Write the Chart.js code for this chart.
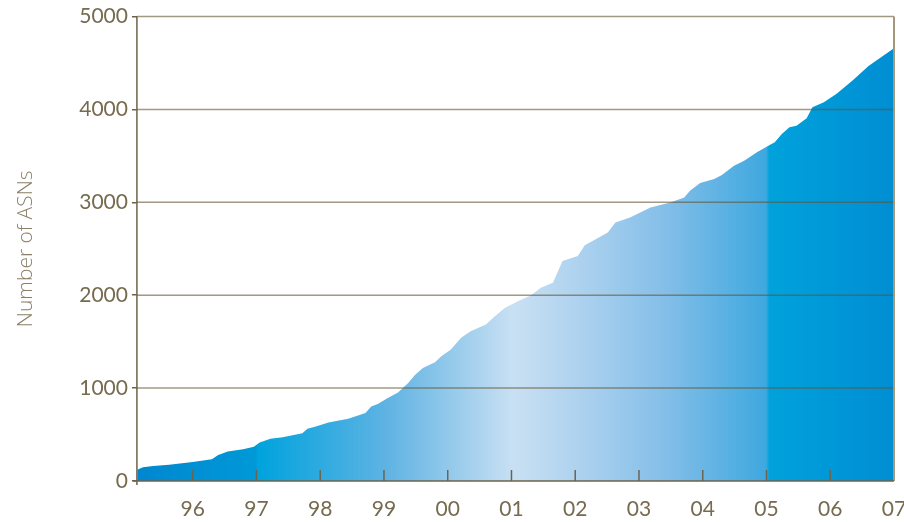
<!DOCTYPE html>
<html>
<head>
<meta charset="utf-8">
<script src="https://cdn.jsdelivr.net/npm/chart.js@4"></script>
<style>
  body { margin: 0; background: #fff; }
  #wrap { width: 904px; height: 522px; }
</style>
</head>
<body>
<div id="wrap"><canvas id="myChart"></canvas></div>
<script>
// dates as decimal years
var years = [1995.13, 1995.22, 1995.38, 1995.63, 1996.00, 1996.30, 1996.40, 1996.55, 1996.79, 1996.96,
  1997.05, 1997.22, 1997.41, 1997.72, 1997.80, 1997.93, 1998.13, 1998.44, 1998.71, 1998.80,
  1998.91, 1999.04, 1999.22, 1999.38, 1999.49, 1999.61, 1999.80, 1999.90, 2000.05, 2000.21,
  2000.36, 2000.60, 2000.74, 2000.90, 2001.10, 2001.30, 2001.46, 2001.65, 2001.80, 2002.04,
  2002.15, 2002.30, 2002.51, 2002.63, 2002.86, 2003.18, 2003.49, 2003.71, 2003.80, 2003.96,
  2004.18, 2004.30, 2004.49, 2004.65, 2004.85, 2005.05, 2005.13, 2005.24, 2005.36, 2005.47,
  2005.63, 2005.72, 2005.90, 2006.10, 2006.35, 2006.60, 2007.00];
var asnCounts = [120, 148, 162, 176, 205, 234, 281, 317, 342, 370,
  414, 454, 472, 515, 562, 586, 630, 670, 731, 802,
  832, 886, 954, 1055, 1145, 1217, 1278, 1342, 1415, 1541,
  1612, 1685, 1774, 1865, 1936, 1998, 2081, 2135, 2368, 2422,
  2538, 2595, 2675, 2783, 2837, 2945, 2999, 3053, 3124, 3208,
  3251, 3294, 3394, 3448, 3539, 3618, 3647, 3737, 3809, 3826,
  3906, 4025, 4079, 4169, 4313, 4468, 4660];
var xTicks = [1996, 1997, 1998, 1999, 2000, 2001, 2002, 2003, 2004, 2005, 2006, 2007];
var yTicks = [0, 1000, 2000, 3000, 4000, 5000];

var points = [];
for (var i = 0; i < years.length; i++) {
  points.push({ x: years[i], y: asnCounts[i] });
}

var textColor = '#766a4f';
var axisColor = '#6e6248';

function areaGradient(context) {
  var chart = context.chart;
  var a = chart.chartArea;
  if (!a) return '#4aa8df';
  var g = chart.ctx.createLinearGradient(a.left, 0, a.right, 0);
  g.addColorStop(0, '#0087cf');
  g.addColorStop(0.157, '#0099d8');
  g.addColorStop(0.160, '#00a3dd');
  g.addColorStop(0.33, '#5fb3e3');
  g.addColorStop(0.498, '#c9e0f3');
  g.addColorStop(0.60, '#a8cfee');
  g.addColorStop(0.70, '#83bee8');
  g.addColorStop(0.831, '#3ea8df');
  g.addColorStop(0.835, '#00a2dc');
  g.addColorStop(1, '#008ed3');
  return g;
}

var overlay = {
  id: 'overlay',
  afterDatasetsDraw: function(chart) {
    var ctx = chart.ctx, a = chart.chartArea;
    var x = chart.scales.x, y = chart.scales.y;
    ctx.save();
    function line(x1, y1, x2, y2) {
      ctx.beginPath(); ctx.moveTo(x1, y1); ctx.lineTo(x2, y2); ctx.stroke();
    }
    // horizontal grid over the area
    ctx.strokeStyle = 'rgba(100,85,50,0.6)';
    ctx.lineWidth = 1.5;
    yTicks.forEach(function(v) {
      if (v === 0) return;
      var py = y.getPixelForValue(v);
      line(a.left, py, a.right, py);
    });
    // right border
    ctx.strokeStyle = '#a39879';
    ctx.lineWidth = 2;
    line(a.right, a.top, a.right, a.bottom);
    // inward x ticks
    ctx.strokeStyle = '#6b6452';
    ctx.lineWidth = 1.5;
    xTicks.forEach(function(v) {
      var px = x.getPixelForValue(v);
      if (px >= a.right - 2) return;
      line(px, a.bottom, px, a.bottom - 11);
    });
    // axes
    ctx.strokeStyle = axisColor;
    ctx.lineWidth = 1.5;
    line(a.left, a.top, a.left, a.bottom + 4);
    line(a.left - 4, a.bottom, a.right, a.bottom);
    ctx.restore();
  }
};

var ctx = document.getElementById('myChart').getContext('2d');
var asnChart = new Chart(ctx, {
  type: 'line',
  data: {
    datasets: [{
      label: 'ASNs',
      data: points,
      fill: 'origin',
      backgroundColor: areaGradient,
      borderWidth: 0,
      pointRadius: 0,
      tension: 0
    }]
  },
  options: {
    responsive: true,
    maintainAspectRatio: false,
    animation: false,
    layout: { padding: { top: 10, left: 13, right: 0, bottom: 0 } },
    plugins: { legend: { display: false }, tooltip: { enabled: false } },
    scales: {
      x: {
        type: 'linear',
        min: 1995.125,
        max: 2007,
        afterBuildTicks: function(axis) {
          axis.ticks = xTicks.map(function(v) { return { value: v }; });
        },
        afterFit: function(axis) {
          axis.paddingRight = 10;
          axis.paddingLeft = 0;
          axis.height = 41;
        },
        grid: { display: false, drawTicks: false },
        border: { display: false },
        ticks: {
          color: textColor,
          padding: 16,
          maxRotation: 0,
          font: { family: 'Lato', size: 21 },
          callback: function(v) { return String(v % 100).padStart(2, '0'); }
        }
      },
      y: {
        min: 0,
        max: 5000,
        afterBuildTicks: function(axis) {
          axis.ticks = yTicks.map(function(v) { return { value: v }; });
        },
        grid: { drawOnChartArea: false, drawTicks: true, tickLength: 5, color: axisColor, lineWidth: 1.5 },
        border: { display: false },
        ticks: {
          color: textColor,
          padding: 4,
          font: { family: 'Lato', size: 21 },
          callback: function(v) { return String(v); }
        },
        title: {
          display: true,
          text: 'Number of ASNs',
          color: '#8b7f67',
          font: { family: 'Open Sans', size: 21, weight: '300' },
          padding: { top: 0, bottom: 37 }
        }
      }
    }
  },
  plugins: [overlay]
});
</script>
</body>
</html>
